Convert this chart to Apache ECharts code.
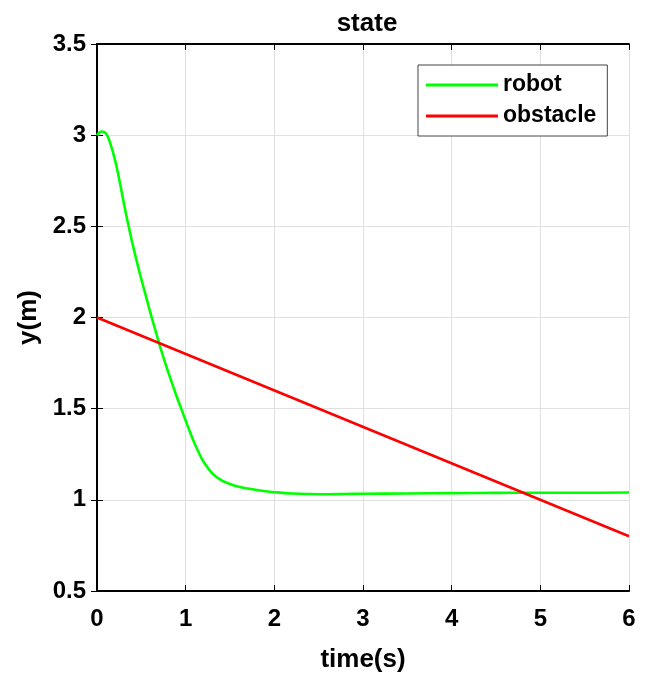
<!DOCTYPE html>
<html>
<head>
<meta charset="utf-8">
<script src="https://cdn.jsdelivr.net/npm/echarts@6/dist/echarts.min.js"></script>
<style>
  html, body { margin: 0; padding: 0; background: #fff; }
  #chart { width: 646px; height: 675px; }
</style>
</head>
<body>
<div id="chart"></div>
<script>
// Robot y-position over time (s, m)
const robotT = [0, 0.05, 0.1, 0.15, 0.2, 0.25, 0.3, 0.35, 0.4, 0.45, 0.5, 0.55, 0.6, 0.65, 0.7, 0.75, 0.8, 0.85, 0.9, 0.95, 1.0, 1.05, 1.1, 1.15, 1.2, 1.3, 1.4, 1.5, 1.6, 1.7, 1.8, 1.9, 2.0, 2.2, 2.4, 2.6, 2.8, 3.0, 3.5, 4.0, 4.5, 5.0, 5.5, 6.0];
const robotY = [3.0, 3.02, 3.01, 2.955, 2.87, 2.76, 2.635, 2.515, 2.405, 2.305, 2.21, 2.12, 2.03, 1.945, 1.86, 1.78, 1.705, 1.635, 1.565, 1.5, 1.435, 1.37, 1.31, 1.257, 1.21, 1.145, 1.108, 1.087, 1.072, 1.062, 1.054, 1.047, 1.042, 1.035, 1.032, 1.031, 1.032, 1.033, 1.035, 1.037, 1.038, 1.039, 1.039, 1.04];

// Obstacle y-position over time
const obstacleT = [0, 6];
const obstacleY = [2.0, 0.8];

const xTicks = [0, 1, 2, 3, 4, 5, 6];
const yTicks = [0.5, 1, 1.5, 2, 2.5, 3, 3.5];

const zip = (a, b) => a.map((v, i) => [v, b[i]]);

const font = 'Liberation Sans, Arial, sans-serif';
const axisLine = { show: true, lineStyle: { color: '#000', width: 2 } };
const tick = { show: true, inside: true, length: 6, lineStyle: { color: '#000', width: 1 } };

const chart = echarts.init(document.getElementById('chart'));
chart.setOption({
  animation: false,
  backgroundColor: '#fff',
  title: {
    text: 'state',
    left: 362, top: 6, textAlign: 'center',
    textStyle: { fontFamily: font, fontWeight: 'bold', fontSize: 26, color: '#000' }
  },
  grid: { left: 97, right: 17, top: 44, bottom: 84, outerBoundsMode: 'none', containLabel: false },
  legend: {
    orient: 'vertical',
    left: 418, top: 65,
    padding: [8, 11, 8, 8],
    itemGap: 7,
    itemWidth: 72, itemHeight: 3,
    icon: 'rect',
    borderColor: '#444', borderWidth: 1,
    backgroundColor: '#fff',
    textStyle: { fontFamily: font, fontWeight: 'bold', fontSize: 23, color: '#000', lineHeight: 24 },
    data: ['robot', 'obstacle']
  },
  xAxis: [{
    type: 'value', min: 0, max: 6, interval: 1,
    name: 'time(s)', nameLocation: 'middle', nameGap: 56,
    nameTextStyle: { fontFamily: font, fontWeight: 'bold', fontSize: 26, color: '#000' },
    axisLine: axisLine, axisTick: tick,
    axisLabel: { fontFamily: font, fontWeight: 'bold', fontSize: 24, color: '#000', margin: 16,
                 formatter: v => xTicks.includes(v) ? String(v) : '' },
    splitLine: { show: true, lineStyle: { color: '#e0e0e0', width: 1 } }
  }, {
    type: 'value', min: 0, max: 6, interval: 1, position: 'top',
    axisLine: axisLine, axisTick: tick,
    axisLabel: { show: false }, splitLine: { show: false }
  }],
  yAxis: [{
    type: 'value', min: 0.5, max: 3.5, interval: 0.5,
    name: 'y(m)', nameLocation: 'middle', nameGap: 55,
    nameTextStyle: { fontFamily: font, fontWeight: 'bold', fontSize: 26, color: '#000' },
    axisLine: axisLine, axisTick: tick,
    axisLabel: { fontFamily: font, fontWeight: 'bold', fontSize: 24, color: '#000', margin: 11,
                 formatter: v => yTicks.includes(v) ? String(v) : '' },
    splitLine: { show: true, lineStyle: { color: '#e0e0e0', width: 1 } }
  }, {
    type: 'value', min: 0.5, max: 3.5, interval: 0.5, position: 'right',
    axisLine: axisLine, axisTick: tick,
    axisLabel: { show: false }, splitLine: { show: false }
  }],
  series: [{
    name: 'robot', type: 'line', smooth: 0.4, showSymbol: false, symbol: 'none',
    data: zip(robotT, robotY),
    itemStyle: { color: '#00ff00' },
    lineStyle: { color: '#00ff00', width: 2.6 },
    z: 3
  }, {
    name: 'obstacle', type: 'line', showSymbol: false, symbol: 'none',
    data: zip(obstacleT, obstacleY),
    itemStyle: { color: '#ff0000' },
    lineStyle: { color: '#ff0000', width: 2.6 },
    z: 3
  }]
});
</script>
</body>
</html>
